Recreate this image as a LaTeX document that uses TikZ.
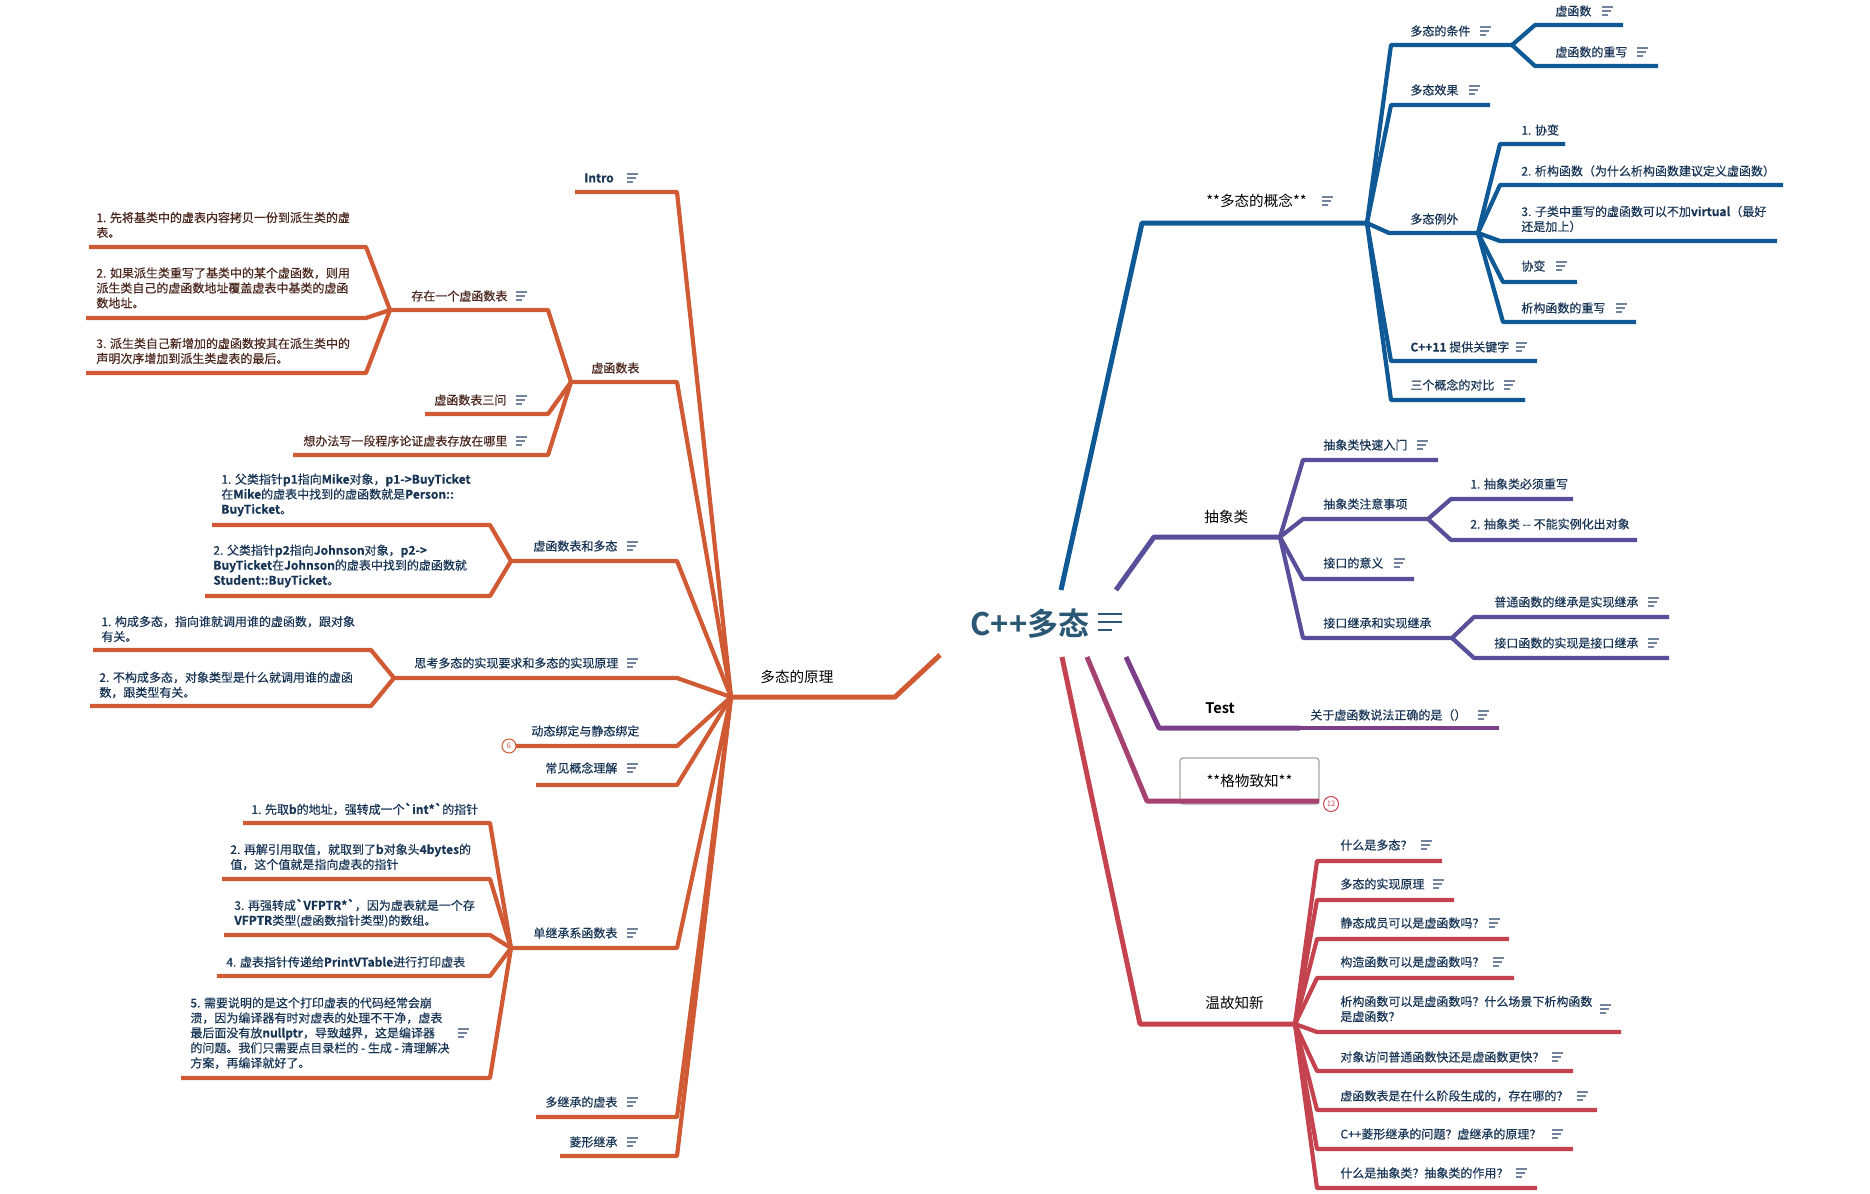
\documentclass[tikz,border=0pt]{standalone}
\usepackage{fontspec}
\setmainfont{Noto Sans CJK SC}[BoldFont={Noto Sans CJK SC Bold},Ligatures=TeXOff]
\newfontfamily\leaffont{Noto Sans CJK SC}[BoldFont={Noto Sans CJK SC Bold},Ligatures=TeXOff,FakeBold=0.35]
\usepackage{xcolor}
\definecolor{orng}{HTML}{CF5A34}
\definecolor{blu}{HTML}{0F5A96}
\definecolor{purp}{HTML}{574F99}
\definecolor{tpurp}{HTML}{7A3F88}
\definecolor{mag}{HTML}{A5426F}
\definecolor{rd}{HTML}{C5434F}
\definecolor{navy}{HTML}{183555}
\definecolor{maroon}{HTML}{4A261C}
\definecolor{rootc}{HTML}{2A5874}
\definecolor{iconc}{HTML}{71849C}

\begin{document}
\begin{tikzpicture}[x=0.5pt,y=-0.5pt,
  lbl/.style={anchor=west,inner sep=0pt,align=left,text=navy,font=\leaffont\fontsize{6}{7.5}\selectfont},
  brn/.style={lbl,text=maroon},
  main/.style={anchor=west,inner sep=0pt,font=\fontsize{7.3}{9}\selectfont},
  trunk/.style={line width=2.5pt,line join=round},
  twig/.style={line width=2.1pt,line join=round},
  note/.pic={\draw[iconc,line width=0.6pt] (-5,-4) -- (6,-4) (-5,0) -- (4,0) (-5,4) -- (1,4);},
  badge/.style={circle,draw,line width=0.5pt,inner sep=0.3pt,minimum size=7pt,fill=white,font=\fontsize{3.8}{4}\selectfont}]

\fill[white] (0,0) rectangle (1870,1194);
\useasboundingbox (0,0) rectangle (1870,1194);

% centre
\node[text=rootc,font=\fontsize{15.5}{18}\selectfont\bfseries] (root) at (1030,624) {C++多态};
\draw[rootc,line width=1.2pt] (1098,614) -- (1122,614) (1098,622) -- (1122,622) (1098,630) -- (1112,630);
\coordinate (rO) at (940,655);
\coordinate (rB) at (1061,590);
\coordinate (rP) at (1116,590);
\coordinate (rR) at (1062,657);
\coordinate (rM) at (1087,657);
\coordinate (rT) at (1126,657);

% ---------------- 多态的原理 (left)
\coordinate (oK) at (895,697);
\coordinate (fanL) at (731,697);
\draw[orng,trunk] (rO) -- (oK) -- (fanL);
\node[main] (yuanli) at (760,677) {多态的原理};

\node[lbl,font=\leaffont\fontsize{6}{7.5}\selectfont\bfseries] (intro) at (584,178) {Intro};
\pic at (632,178) {note};
\path (677,192) coordinate (intro-r) (575,192) coordinate (intro-l);
\draw[orng,twig] (fanL) -- (intro-r) -- (intro-l);

% 虚函数表
\node[brn] (vtab) at (591,368) {虚函数表};
\path (677,382) coordinate (vtab-r) (571,382) coordinate (vtabF);
\draw[orng,twig] (fanL) -- (vtab-r) -- (vtabF);

\node[brn] (exist) at (411,296) {存在一个虚函数表};
\pic at (521,296) {note};
\path (548,310) coordinate (exist-r) (390,310) coordinate (existF);
\draw[orng,twig] (vtabF) -- (exist-r) -- (existF);

\node[brn] (ex1) at (96,225) {1. 先将基类中的虚表内容拷贝一份到派生类的虚\\表。};
\path (366,247) coordinate (ex1-r) (89,247) coordinate (ex1-l);
\draw[orng,twig] (existF) -- (ex1-r) -- (ex1-l);
\node[brn] (ex2) at (96,288) {2. 如果派生类重写了基类中的某个虚函数，则用\\派生类自己的虚函数地址覆盖虚表中基类的虚函\\数地址。};
\path (366,318) coordinate (ex2-r) (86,318) coordinate (ex2-l);
\draw[orng,twig] (existF) -- (ex2-r) -- (ex2-l);
\node[brn] (ex3) at (96,351) {3. 派生类自己新增加的虚函数按其在派生类中的\\声明次序增加到派生类虚表的最后。};
\path (366,373) coordinate (ex3-r) (86,373) coordinate (ex3-l);
\draw[orng,twig] (existF) -- (ex3-r) -- (ex3-l);

\node[brn] (three) at (434,400) {虚函数表三问};
\pic at (521,400) {note};
\path (548,414) coordinate (three-r) (425,414) coordinate (three-l);
\draw[orng,twig] (vtabF) -- (three-r) -- (three-l);

\node[brn] (prove) at (303,441) {想办法写一段程序论证虚表存放在哪里};
\pic at (521,441) {note};
\path (548,455) coordinate (prove-r) (293,455) coordinate (prove-l);
\draw[orng,twig] (vtabF) -- (prove-r) -- (prove-l);

% 虚函数表和多态
\node[lbl] (vpoly) at (533,546) {虚函数表和多态};
\pic at (632,546) {note};
\path (677,561) coordinate (vpoly-r) (511,561) coordinate (vpolyF);
\draw[orng,twig] (fanL) -- (vpoly-r) -- (vpolyF);

\node[lbl] (vp1) at (221,495) {1. 父类指针\textbf{p1}指向\textbf{Mike}对象，\textbf{p1->BuyTicket}\\在\textbf{Mike}的虚表中找到的虚函数就是\textbf{Person::}\\\textbf{BuyTicket}。};
\path (490,525) coordinate (vp1-r) (212,525) coordinate (vp1-l);
\draw[orng,twig] (vpolyF) -- (vp1-r) -- (vp1-l);
\node[lbl] (vp2) at (213,566) {2. 父类指针\textbf{p2}指向\textbf{Johnson}对象，\textbf{p2->}\\\textbf{BuyTicket}在\textbf{Johnson}的虚表中找到的虚函数就\\\textbf{Student::BuyTicket}。};
\path (490,596) coordinate (vp2-r) (205,596) coordinate (vp2-l);
\draw[orng,twig] (vpolyF) -- (vp2-r) -- (vp2-l);

% 思考多态的实现要求和多态的实现原理
\node[lbl] (think) at (414,663) {思考多态的实现要求和多态的实现原理};
\pic at (632,663) {note};
\path (677,678) coordinate (think-r) (394,678) coordinate (thinkF);
\draw[orng,twig] (fanL) -- (think-r) -- (thinkF);

\node[lbl] (th1) at (101,629) {1. 构成多态，指向谁就调用谁的虚函数，跟对象\\有关。};
\path (371,650) coordinate (th1-r) (93,650) coordinate (th1-l);
\draw[orng,twig] (thinkF) -- (th1-r) -- (th1-l);
\node[lbl] (th2) at (99,685) {2. 不构成多态，对象类型是什么就调用谁的虚函\\数，跟类型有关。};
\path (371,706) coordinate (th2-r) (90,706) coordinate (th2-l);
\draw[orng,twig] (thinkF) -- (th2-r) -- (th2-l);

% 动态绑定与静态绑定
\node[lbl] (bind) at (531,731) {动态绑定与静态绑定};
\path (677,746) coordinate (bind-r) (516,746) coordinate (bind-l);
\draw[orng,twig] (fanL) -- (bind-r) -- (bind-l);
\node[badge,draw=orng,text=orng] (six) at (509,746) {6};

% 常见概念理解
\node[lbl] (concept) at (545,768) {常见概念理解};
\pic at (632,768) {note};
\path (677,785) coordinate (concept-r) (536,785) coordinate (concept-l);
\draw[orng,twig] (fanL) -- (concept-r) -- (concept-l);

% 单继承系函数表
\node[lbl] (single) at (533,933) {单继承系函数表};
\pic at (632,933) {note};
\path (677,948) coordinate (single-r) (511,948) coordinate (singleF);
\draw[orng,twig] (fanL) -- (single-r) -- (singleF);

\node[lbl] (sg1) at (251,809) {1. 先取\textbf{b}的地址，强转成一个\textbf{`int*`}的指针};
\path (490,823) coordinate (sg1-r) (243,823) coordinate (sg1-l);
\draw[orng,twig] (singleF) -- (sg1-r) -- (sg1-l);
\node[lbl] (sg2) at (230,857) {2. 再解引用取值，就取到了\textbf{b}对象头\textbf{4bytes}的\\值，这个值就是指向虚表的指针};
\path (490,879) coordinate (sg2-r) (222,879) coordinate (sg2-l);
\draw[orng,twig] (singleF) -- (sg2-r) -- (sg2-l);
\node[lbl] (sg3) at (234,913) {3. 再强转成\textbf{`VFPTR*`}，因为虚表就是一个存\\\textbf{VFPTR}类型(虚函数指针类型)的数组。};
\path (490,935) coordinate (sg3-r) (224,935) coordinate (sg3-l);
\draw[orng,twig] (singleF) -- (sg3-r) -- (sg3-l);
\node[lbl] (sg4) at (226,962) {4. 虚表指针传递给\textbf{PrintVTable}进行打印虚表};
\path (490,976) coordinate (sg4-r) (217,976) coordinate (sg4-l);
\draw[orng,twig] (singleF) -- (sg4-r) -- (sg4-l);
\node[lbl] (sg5) at (190,1033) {5. 需要说明的是这个打印虚表的代码经常会崩\\溃，因为编译器有时对虚表的处理不干净，虚表\\最后面没有放\textbf{nullptr}，导致越界，这是编译器\\的问题。我们只需要点目录栏的 - 生成 - 清理解决\\方案，再编译就好了。};
\pic at (463,1033) {note};
\path (490,1078) coordinate (sg5-r) (181,1078) coordinate (sg5-l);
\draw[orng,twig] (singleF) -- (sg5-r) -- (sg5-l);

% 多继承的虚表, 菱形继承
\node[lbl] (multi) at (545,1102) {多继承的虚表};
\pic at (632,1102) {note};
\path (677,1117) coordinate (multi-r) (536,1117) coordinate (multi-l);
\draw[orng,twig] (fanL) -- (multi-r) -- (multi-l);
\node[lbl] (dmnd) at (569,1142) {菱形继承};
\pic at (632,1142) {note};
\path (677,1156) coordinate (dmnd-r) (560,1156) coordinate (dmnd-l);
\draw[orng,twig] (fanL) -- (dmnd-r) -- (dmnd-l);

% ---------------- **多态的概念** (blue)
\coordinate (bK) at (1142,223);
\coordinate (fanB) at (1367,223);
\draw[blu,trunk] (rB) -- (bK) -- (fanB);
\node[main] (gainian) at (1206,201) {**多态的概念**};
\pic at (1327,201) {note};

\node[lbl] (cond) at (1410,31) {多态的条件};
\pic at (1485,31) {note};
\path (1391,45) coordinate (cond-l) (1512,45) coordinate (condF);
\draw[blu,twig] (fanB) -- (cond-l) -- (condF);
\node[lbl] (vf) at (1555,11) {虚函数};
\pic at (1607,11) {note};
\path (1535,25) coordinate (vf-l) (1623,25) coordinate (vf-r);
\draw[blu,twig] (condF) -- (vf-l) -- (vf-r);
\node[lbl] (ovr) at (1555,52) {虚函数的重写};
\pic at (1642,52) {note};
\path (1535,66) coordinate (ovr-l) (1658,66) coordinate (ovr-r);
\draw[blu,twig] (condF) -- (ovr-l) -- (ovr-r);

\node[lbl] (eff) at (1410,90) {多态效果};
\pic at (1474,90) {note};
\path (1391,105) coordinate (eff-l) (1490,105) coordinate (eff-r);
\draw[blu,twig] (fanB) -- (eff-l) -- (eff-r);

\node[lbl] (exc) at (1410,219) {多态例外};
\path (1389,233) coordinate (exc-l) (1478,233) coordinate (excF);
\draw[blu,twig] (fanB) -- (exc-l) -- (excF);
\node[lbl] (ec1) at (1521,130) {1. 协变};
\path (1500,144) coordinate (ec1-l) (1565,144) coordinate (ec1-r);
\draw[blu,twig] (excF) -- (ec1-l) -- (ec1-r);
\node[lbl] (ec2) at (1521,171) {2. 析构函数（为什么析构函数建议定义虚函数）};
\path (1500,185) coordinate (ec2-l) (1783,185) coordinate (ec2-r);
\draw[blu,twig] (excF) -- (ec2-l) -- (ec2-r);
\node[lbl] (ec3) at (1521,219) {3. 子类中重写的虚函数可以不加\textbf{virtual}（最好\\还是加上）};
\path (1500,241) coordinate (ec3-l) (1777,241) coordinate (ec3-r);
\draw[blu,twig] (excF) -- (ec3-l) -- (ec3-r);
\node[lbl] (ec4) at (1521,266) {协变};
\pic at (1561,266) {note};
\path (1503,282) coordinate (ec4-l) (1577,282) coordinate (ec4-r);
\draw[blu,twig] (excF) -- (ec4-l) -- (ec4-r);
\node[lbl] (ec5) at (1521,308) {析构函数的重写};
\pic at (1621,308) {note};
\path (1503,322) coordinate (ec5-l) (1636,322) coordinate (ec5-r);
\draw[blu,twig] (excF) -- (ec5-l) -- (ec5-r);

\node[lbl] (kw) at (1410,347) {\textbf{C++11} 提供关键字};
\pic at (1521,347) {note};
\path (1391,361) coordinate (kw-l) (1537,361) coordinate (kw-r);
\draw[blu,twig] (fanB) -- (kw-l) -- (kw-r);
\node[lbl] (cmp) at (1410,385) {三个概念的对比};
\pic at (1509,385) {note};
\path (1391,400) coordinate (cmp-l) (1525,400) coordinate (cmp-r);
\draw[blu,twig] (fanB) -- (cmp-l) -- (cmp-r);

% ---------------- 抽象类 (purple)
\coordinate (pK) at (1154,537);
\coordinate (fanP) at (1280,537);
\draw[purp,trunk] (rP) -- (pK) -- (fanP);
\node[main] (chouxiang) at (1204,517) {抽象类};

\node[lbl] (quick) at (1323,445) {抽象类快速入门};
\pic at (1422,445) {note};
\path (1303,460) coordinate (quick-l) (1438,460) coordinate (quick-r);
\draw[purp,twig] (fanP) -- (quick-l) -- (quick-r);

\node[lbl] (att) at (1323,504) {抽象类注意事项};
\path (1303,519) coordinate (att-l) (1428,519) coordinate (attF);
\draw[purp,twig] (fanP) -- (att-l) -- (attF);
\node[lbl] (at1) at (1470,484) {1. 抽象类必须重写};
\path (1451,499) coordinate (at1-l) (1573,499) coordinate (at1-r);
\draw[purp,twig] (attF) -- (at1-l) -- (at1-r);
\node[lbl] (at2) at (1470,524) {2. 抽象类 -- 不能实例化出对象};
\path (1451,540) coordinate (at2-l) (1637,540) coordinate (at2-r);
\draw[purp,twig] (attF) -- (at2-l) -- (at2-r);

\node[lbl] (mean) at (1323,563) {接口的意义};
\pic at (1399,563) {note};
\path (1303,579) coordinate (mean-l) (1414,579) coordinate (mean-r);
\draw[purp,twig] (fanP) -- (mean-l) -- (mean-r);

\node[lbl] (inh) at (1323,623) {接口继承和实现继承};
\path (1303,638) coordinate (inh-l) (1452,638) coordinate (inhF);
\draw[purp,twig] (fanP) -- (inh-l) -- (inhF);
\node[lbl] (ih1) at (1494,602) {普通函数的继承是实现继承};
\pic at (1653,602) {note};
\path (1474,617) coordinate (ih1-l) (1669,617) coordinate (ih1-r);
\draw[purp,twig] (inhF) -- (ih1-l) -- (ih1-r);
\node[lbl] (ih2) at (1494,643) {接口函数的实现是接口继承};
\pic at (1653,643) {note};
\path (1474,658) coordinate (ih2-l) (1669,658) coordinate (ih2-r);
\draw[purp,twig] (inhF) -- (ih2-l) -- (ih2-r);

% ---------------- Test
\coordinate (tK) at (1159,728);
\coordinate (tF) at (1300,728);
\coordinate (tq-r) at (1499,728);
\draw[tpurp,trunk] (rT) -- (tK) -- (tF);
\draw[tpurp,twig] (tF) -- (tq-r);
\node[main,font=\fontsize{7.3}{9}\selectfont\bfseries] (test) at (1205,708) {Test};
\node[lbl] (tq) at (1310,715) {关于虚函数说法正确的是（）};
\pic at (1483,715) {note};

% ---------------- **格物致知**
\node[draw=black!35,line width=0.7pt,rounded corners=1.5pt,minimum width=69.5pt,minimum height=23pt,
      font=\fontsize{7.3}{9}\selectfont] (gewu) at (1249.5,781) {**格物致知**};
\coordinate (gK) at (1147,801);
\coordinate (gF) at (1319,801);
\draw[mag,trunk] (rM) -- (gK) -- (gF);
\node[badge,draw=rd,text=rd,minimum size=7.5pt] (twelve) at (1331,804) {12};

% ---------------- 温故知新 (red)
\coordinate (wK) at (1140,1024);
\coordinate (fanR) at (1295,1024);
\draw[rd,trunk] (rR) -- (wK) -- (fanR);
\node[main] (wengu) at (1205,1003) {温故知新};

\node[lbl] (q1) at (1340,845) {什么是多态？};
\pic at (1426,845) {note};
\path (1317,861) coordinate (q1-l) (1442,861) coordinate (q1-r);
\draw[rd,twig] (fanR) -- (q1-l) -- (q1-r);
\node[lbl] (q2) at (1340,884) {多态的实现原理};
\pic at (1438,884) {note};
\path (1317,900) coordinate (q2-l) (1454,900) coordinate (q2-r);
\draw[rd,twig] (fanR) -- (q2-l) -- (q2-r);
\node[lbl] (q3) at (1340,923) {静态成员可以是虚函数吗？};
\pic at (1494,923) {note};
\path (1317,939) coordinate (q3-l) (1509,939) coordinate (q3-r);
\draw[rd,twig] (fanR) -- (q3-l) -- (q3-r);
\node[lbl] (q4) at (1340,962) {构造函数可以是虚函数吗？};
\pic at (1498,962) {note};
\path (1317,978) coordinate (q4-l) (1514,978) coordinate (q4-r);
\draw[rd,twig] (fanR) -- (q4-l) -- (q4-r);
\node[lbl] (q5) at (1340,1009) {析构函数可以是虚函数吗？什么场景下析构函数\\是虚函数？};
\pic at (1605,1009) {note};
\path (1317,1032) coordinate (q5-l) (1621,1032) coordinate (q5-r);
\draw[rd,twig] (fanR) -- (q5-l) -- (q5-r);
\node[lbl] (q6) at (1340,1057) {对象访问普通函数快还是虚函数更快？};
\pic at (1557,1057) {note};
\path (1317,1071) coordinate (q6-l) (1573,1071) coordinate (q6-r);
\draw[rd,twig] (fanR) -- (q6-l) -- (q6-r);
\node[lbl] (q7) at (1340,1096) {虚函数表是在什么阶段生成的，存在哪的？};
\pic at (1582,1096) {note};
\path (1317,1110) coordinate (q7-l) (1597,1110) coordinate (q7-r);
\draw[rd,twig] (fanR) -- (q7-l) -- (q7-r);
\node[lbl] (q8) at (1340,1134) {C++菱形继承的问题？虚继承的原理？};
\pic at (1557,1134) {note};
\path (1317,1149) coordinate (q8-l) (1573,1149) coordinate (q8-r);
\draw[rd,twig] (fanR) -- (q8-l) -- (q8-r);
\node[lbl] (q9) at (1340,1173) {什么是抽象类？抽象类的作用？};
\pic at (1521,1173) {note};
\path (1317,1188) coordinate (q9-l) (1537,1188) coordinate (q9-r);
\draw[rd,twig] (fanR) -- (q9-l) -- (q9-r);
\end{tikzpicture}
\end{document}
